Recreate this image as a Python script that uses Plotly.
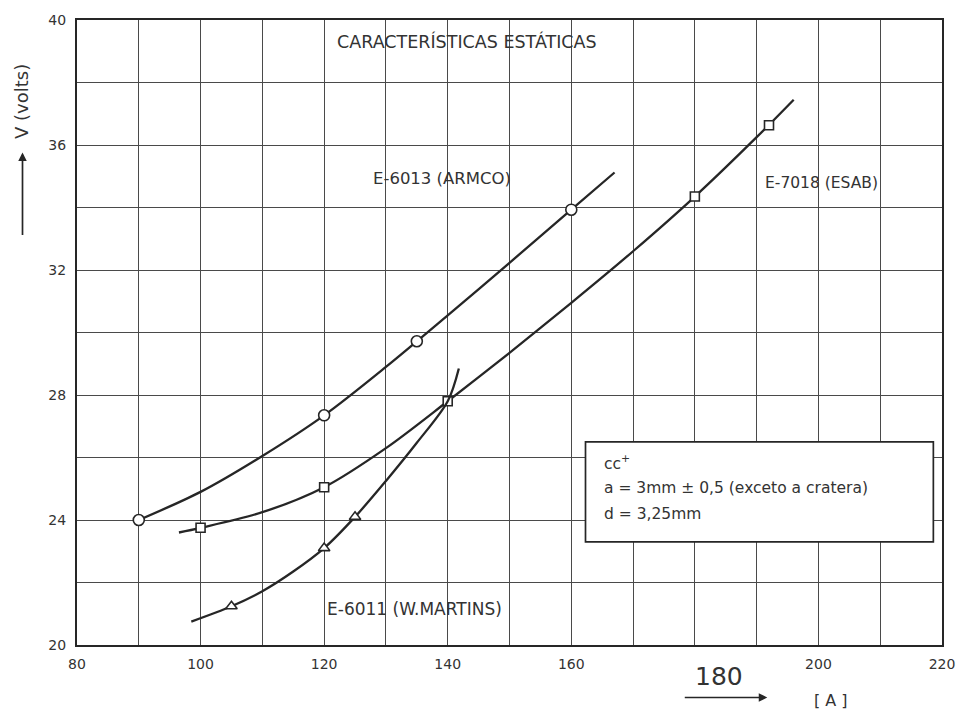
import plotly.graph_objects as go

# Static characteristics of three covered electrodes: arc voltage vs current
# E-6013 (ARMCO)
e6013_curve_a = [90, 100, 110, 120, 130, 140, 150, 160, 167]
e6013_curve_v = [24.0, 24.9, 26.05, 27.35, 28.9, 30.55, 32.23, 33.93, 35.12]
e6013_pts_a = [90, 120, 135, 160]
e6013_pts_v = [24.0, 27.35, 29.72, 33.93]

# E-7018 (ESAB)
e7018_curve_a = [96.5, 100, 110, 120, 130, 140, 150, 160, 170, 180, 190, 196]
e7018_curve_v = [23.6, 23.75, 24.25, 25.05, 26.3, 27.8, 29.35, 30.95, 32.6, 34.35, 36.25, 37.45]
e7018_pts_a = [100, 120, 140, 180, 192]
e7018_pts_v = [23.75, 25.05, 27.8, 34.35, 36.63]

# E-6011 (W.MARTINS)
e6011_curve_a = [98.5, 105, 110, 115, 120, 125, 130, 135, 140, 141.8]
e6011_curve_v = [20.75, 21.24, 21.72, 22.35, 23.1, 24.1, 25.25, 26.47, 27.8, 28.85]
e6011_pts_a = [105, 120, 125]
e6011_pts_v = [21.24, 23.1, 24.1]

x_tick_vals = list(range(80, 221, 10))
x_tick_text = ["80", "", "100", "", "120", "", "140", "", "160", "",
               "180", "", "200", "", "220"]
x_big_tick = "180"   # this one is lettered larger, slightly right of its line
y_tick_vals = list(range(20, 41, 2))
y_tick_text = ["20", "", "24", "", "28", "", "32", "", "36", "", "40"]

INK = "#262626"
TXT = "#333333"
FONT = "DejaVu Sans, Verdana, sans-serif"

fig = go.Figure()

def add_series(ca, cv, pa, pv, symbol, size):
    fig.add_trace(go.Scatter(
        x=ca, y=cv, mode="lines",
        line=dict(color=INK, width=2.3, shape="spline", smoothing=0.9),
        hoverinfo="skip", showlegend=False))
    fig.add_trace(go.Scatter(
        x=pa, y=pv, mode="markers",
        marker=dict(symbol=symbol, size=size, color="white",
                    line=dict(color=INK, width=1.6)),
        showlegend=False))

add_series(e6013_curve_a, e6013_curve_v, e6013_pts_a, e6013_pts_v, "circle", 11)
add_series(e7018_curve_a, e7018_curve_v, e7018_pts_a, e7018_pts_v, "square", 9)
add_series(e6011_curve_a, e6011_curve_v, e6011_pts_a, e6011_pts_v, "triangle-up", 10)

# conditions box
fig.add_shape(type="rect", xref="x", yref="y", x0=162.3, x1=218.6, y0=23.3, y1=26.5,
              fillcolor="white", line=dict(color=INK, width=1.7), layer="above")

annotations = [
    dict(x=143.2, y=39.3, text="CARACTERÍSTICAS ESTÁTICAS", font=dict(size=17.5)),
    dict(x=127.6, y=34.93, text="E-6013 (ARMCO)", xanchor="left", font=dict(size=16.5)),
    dict(x=191.1, y=34.78, text="E-7018 (ESAB)", xanchor="left", font=dict(size=15.5)),
    dict(x=120.2, y=21.15, text="E-6011 (W.MARTINS)", xanchor="left", font=dict(size=17)),
]
for a in annotations:
    a.update(xref="x", yref="y", showarrow=False)
    a["font"].update(family=FONT, color=TXT)

box_lines = ["cc<sup>+</sup>", "a = 3mm ± 0,5 (exceto a cratera)", "d = 3,25mm"]
for i, t in enumerate(box_lines):
    annotations.append(dict(xref="x", yref="y", x=165.0, y=25.85 - i * 0.83,
                            text=t, xanchor="left", showarrow=False,
                            font=dict(family=FONT, size=15.5, color=TXT)))

# the large "180" under the current axis
annotations.append(dict(xref="x", yref="paper", x=float(x_big_tick) + 3.9, y=-0.05,
                        text=x_big_tick, showarrow=False, yanchor="middle",
                        font=dict(family=FONT, size=25, color=TXT)))

# axis captions and arrows
annotations += [
    dict(xref="paper", yref="paper", x=-0.065, y=0.87, text="V (volts)",
         textangle=-90, xanchor="center", yanchor="middle", showarrow=False,
         font=dict(family=FONT, size=18, color=TXT)),
    dict(xref="paper", yref="paper", x=-0.063, y=0.788, text="", showarrow=True,
         ax=0, ay=84, arrowhead=2, arrowsize=1, arrowwidth=1.7, arrowcolor=INK),
    dict(xref="paper", yref="paper", x=0.798, y=-0.084, text="", showarrow=True,
         ax=-84, ay=0, arrowhead=2, arrowsize=1, arrowwidth=1.7, arrowcolor=INK),
    dict(xref="paper", yref="paper", x=0.872, y=-0.088, text="[ A ]",
         showarrow=False, xanchor="center", yanchor="middle",
         font=dict(family=FONT, size=16, color=TXT)),
]

fig.update_layout(
    width=967, height=715,
    margin=dict(l=77, r=19, t=13, b=70),
    paper_bgcolor="white", plot_bgcolor="white",
    font=dict(family=FONT, color=TXT),
    annotations=annotations,
)
fig.update_xaxes(range=[80, 220], tickvals=x_tick_vals,
                 ticktext=["" if t == x_big_tick else t for t in x_tick_text],
                 showgrid=True, gridcolor="#4a4a4a", gridwidth=1.3,
                 showline=True, linecolor=INK, linewidth=2.3, mirror=True,
                 zeroline=False, ticks="", ticklabelstandoff=5,
                 tickfont=dict(family=FONT, size=14, color=TXT))
fig.update_yaxes(range=[20, 40], tickvals=y_tick_vals, ticktext=y_tick_text,
                 showgrid=True, gridcolor="#4a4a4a", gridwidth=1.3,
                 showline=True, linecolor=INK, linewidth=2.3, mirror=True,
                 zeroline=False, ticks="", ticklabelstandoff=6,
                 tickfont=dict(family=FONT, size=14, color=TXT))

fig.write_html("out.html")
